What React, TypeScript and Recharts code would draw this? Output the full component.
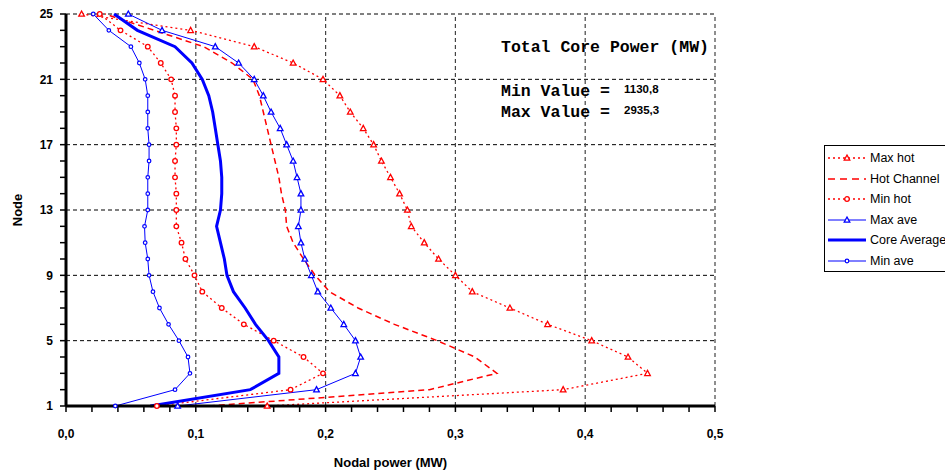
import React from "react";
import {
  LineChart, Line,
  XAxis, YAxis, ReferenceLine, Label,
} from "recharts";

// node positions, bottom (1) to top (25)
const NODES = [1, 2, 3, 4, 5, 6, 7, 8, 9, 10, 11, 12, 13, 14, 15, 16, 17, 18, 19, 20, 21, 22, 23, 24, 25];
const NODE_LABELS = [1, 5, 9, 13, 17, 21, 25];
const POWER_TICKS = [0, 0.02, 0.04, 0.06, 0.08, 0.1, 0.12, 0.14, 0.16, 0.18, 0.2, 0.22, 0.24, 0.26, 0.28, 0.3, 0.32, 0.34, 0.36, 0.38, 0.4, 0.42, 0.44, 0.46, 0.48, 0.5];
const POWER_LABELS = [0, 0.1, 0.2, 0.3, 0.4, 0.5];

// nodal power (MW) per node, node 1 first
const MAX_HOT = [0.155, 0.383, 0.448, 0.433, 0.405, 0.371, 0.342, 0.313, 0.3, 0.287, 0.276, 0.266, 0.263, 0.257, 0.25, 0.243, 0.237, 0.229, 0.219, 0.211, 0.198, 0.175, 0.145, 0.096, 0.012];
const HOT_CHANNEL = [0.11, 0.28, 0.332, 0.315, 0.286, 0.253, 0.225, 0.203, 0.192, 0.183, 0.175, 0.17, 0.169, 0.166, 0.164, 0.161, 0.158, 0.155, 0.152, 0.149, 0.144, 0.128, 0.106, 0.068, 0.03];
const MIN_HOT = [0.07, 0.173, 0.198, 0.183, 0.16, 0.137, 0.12, 0.105, 0.099, 0.092, 0.089, 0.085, 0.085, 0.085, 0.084, 0.084, 0.085, 0.085, 0.084, 0.084, 0.081, 0.073, 0.063, 0.042, 0.026];
const MAX_AVE = [0.086, 0.193, 0.223, 0.227, 0.223, 0.214, 0.204, 0.194, 0.189, 0.184, 0.181, 0.179, 0.181, 0.181, 0.178, 0.175, 0.17, 0.165, 0.158, 0.152, 0.145, 0.133, 0.115, 0.074, 0.048];
const CORE_AVERAGE = [0.065, 0.142, 0.164, 0.164, 0.156, 0.146, 0.138, 0.129, 0.124, 0.122, 0.119, 0.116, 0.119, 0.12, 0.12, 0.119, 0.117, 0.115, 0.113, 0.11, 0.105, 0.097, 0.084, 0.055, 0.037];
const MIN_AVE = [0.038, 0.084, 0.0955, 0.094, 0.087, 0.079, 0.072, 0.067, 0.064, 0.063, 0.061, 0.0605, 0.063, 0.063, 0.063, 0.064, 0.064, 0.063, 0.063, 0.063, 0.061, 0.0565, 0.05, 0.033, 0.021];

const MIN_VALUE = "1130,8";
const MAX_VALUE = "2935,3";

const RED = "#ff0000";
const BLUE = "#0000ff";
const SANS = "'Liberation Sans', Arial, sans-serif";
const MONO = "'Liberation Mono', 'Courier New', monospace";

type Marker = "triangle" | "circle" | "dot" | null;
type Series = { key: string; name: string; color: string; width: number; dash?: string; marker: Marker };

const SERIES: Series[] = [
  { key: "maxHot", name: "Max hot", color: RED, width: 1.3, dash: "2 3", marker: "triangle" },
  { key: "hotChannel", name: "Hot Channel", color: RED, width: 1.5, dash: "6 4", marker: null },
  { key: "minHot", name: "Min hot", color: RED, width: 1.3, dash: "2 3", marker: "circle" },
  { key: "maxAve", name: "Max ave", color: BLUE, width: 1, marker: "triangle" },
  { key: "core", name: "Core Average", color: BLUE, width: 3, marker: null },
  { key: "minAve", name: "Min ave", color: BLUE, width: 1, marker: "dot" },
];

const data = NODES.map((node, i) => ({
  node,
  maxHot: MAX_HOT[i],
  hotChannel: HOT_CHANNEL[i],
  minHot: MIN_HOT[i],
  maxAve: MAX_AVE[i],
  core: CORE_AVERAGE[i],
  minAve: MIN_AVE[i],
}));

function markerShape(marker: Marker, color: string, cx: number, cy: number, key?: string) {
  if (marker === "triangle")
    return <path key={key} d={`M${cx},${cy - 3}L${cx + 2.8},${cy + 2.2}L${cx - 2.8},${cy + 2.2}Z`} fill="#fff" stroke={color} strokeWidth={1.3} />;
  if (marker === "circle")
    return <circle key={key} cx={cx} cy={cy} r={2.3} fill="#fff" stroke={color} strokeWidth={1.3} />;
  if (marker === "dot")
    return <circle key={key} cx={cx} cy={cy} r={1.8} fill="#fff" stroke={color} strokeWidth={1.2} />;
  return <g key={key} />;
}

const isMajor = (v: number, list: number[]) => list.some((m) => Math.abs(m - v) < 1e-6);
const TICK_STYLE = { fontSize: 12, fontWeight: 700, fill: "#000", fontFamily: SANS };

function LegendBox() {
  return (
    <div style={{ position: "absolute", left: 824, top: 145, width: 140, height: 125, border: "1px solid #000", background: "#fff", fontFamily: SANS, fontSize: 12.5 }}>
      {SERIES.map((s, i) => (
        <div key={s.key} style={{ position: "absolute", left: 0, top: 4 + i * 20.6, height: 16, display: "flex", alignItems: "center", whiteSpace: "nowrap" }}>
          <svg width={44} height={16} style={{ display: "block" }}>
            <line x1={3} y1={8} x2={41} y2={8} stroke={s.color} strokeWidth={s.width} strokeDasharray={s.dash === "6 4" ? "7 5" : s.dash ? "2 3" : undefined} />
            {markerShape(s.marker, s.color, 22, 8)}
          </svg>
          <span style={{ marginLeft: 1 }}>{s.name}</span>
        </div>
      ))}
    </div>
  );
}

export default function App() {
  return (
    <div style={{ position: "relative", width: 945, height: 474, overflow: "hidden", background: "#fff" }}>
      <style>{"body{margin:0}"}</style>
      <LineChart width={945} height={474} data={data} layout="vertical" margin={{ top: 14, right: 230, bottom: 38, left: 0 }}>
        <XAxis
          type="number"
          domain={[0, 0.5]}
          ticks={POWER_TICKS}
          interval={0}
          allowDataOverflow
          height={30}
          tickSize={6}
          tickMargin={17}
          axisLine={{ stroke: "#000", strokeWidth: 3 }}
          tickLine={{ stroke: "#000", strokeWidth: 1.5 }}
          tick={TICK_STYLE}
          tickFormatter={(v: number) => (isMajor(v, POWER_LABELS) ? v.toFixed(1).replace(".", ",") : "")}
        >
          <Label value="Nodal power (MW)" position="bottom" offset={22} style={{ fontSize: 13, fontWeight: 700, fill: "#000", fontFamily: SANS }} />
        </XAxis>
        <YAxis
          type="number"
          dataKey="node"
          domain={[1, 25]}
          ticks={NODES}
          interval={0}
          reversed
          width={66}
          tickSize={6}
          tickMargin={7}
          axisLine={{ stroke: "#000", strokeWidth: 3 }}
          tickLine={{ stroke: "#000", strokeWidth: 1.5 }}
          tick={TICK_STYLE}
          tickFormatter={(v: number) => (isMajor(v, NODE_LABELS) ? String(v) : "")}
        >
          <Label value="Node" angle={-90} position="insideLeft" offset={17} style={{ fontSize: 13, fontWeight: 700, fill: "#000", fontFamily: SANS, textAnchor: "middle" }} />
        </YAxis>
        {NODE_LABELS.filter((n) => n !== 1).map((n) => (
          <ReferenceLine key={`h${n}`} y={n} stroke="#000" strokeWidth={1} strokeDasharray="4 3" />
        ))}
        {POWER_LABELS.filter((p) => p !== 0).map((p) => (
          <ReferenceLine key={`v${p}`} x={p} stroke="#444" strokeWidth={1.2} strokeDasharray="4 3" />
        ))}
        {SERIES.map((s) => (
          <Line
            key={s.key}
            type="linear"
            dataKey={s.key}
            name={s.name}
            stroke={s.color}
            strokeWidth={s.width}
            strokeDasharray={s.dash}
            isAnimationActive={false}
            activeDot={false}
            dot={s.marker ? (p: any) => markerShape(s.marker, s.color, p.cx, p.cy, `${s.key}-${p.index}`) : false}
          />
        ))}
      </LineChart>

      <div style={{ position: "absolute", left: 501, top: 40, fontFamily: MONO, fontWeight: 700, fontSize: 16.5, whiteSpace: "nowrap", lineHeight: 1 }}>
        Total Core Power (MW)
      </div>
      <div style={{ position: "absolute", left: 501, top: 84, fontFamily: MONO, fontWeight: 700, fontSize: 16.5, whiteSpace: "nowrap", lineHeight: 1 }}>
        Min Value =
      </div>
      <div style={{ position: "absolute", left: 624, top: 84, fontFamily: SANS, fontWeight: 700, fontSize: 11.5, whiteSpace: "nowrap", lineHeight: 1 }}>
        {MIN_VALUE}
      </div>
      <div style={{ position: "absolute", left: 501, top: 105, fontFamily: MONO, fontWeight: 700, fontSize: 16.5, whiteSpace: "nowrap", lineHeight: 1 }}>
        Max Value =
      </div>
      <div style={{ position: "absolute", left: 624, top: 105, fontFamily: SANS, fontWeight: 700, fontSize: 11.5, whiteSpace: "nowrap", lineHeight: 1 }}>
        {MAX_VALUE}
      </div>
      <LegendBox />
    </div>
  );
}
